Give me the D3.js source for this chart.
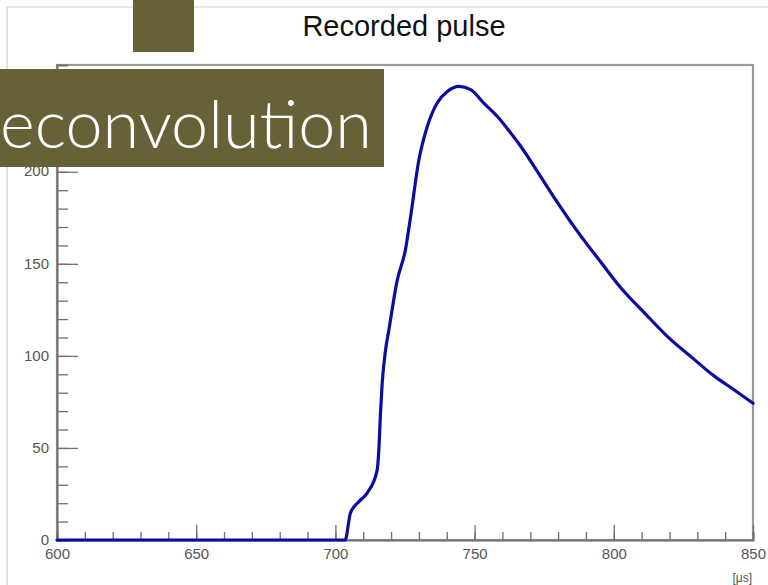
<!DOCTYPE html>
<html>
<head>
<meta charset="utf-8">
<script src="https://cdn.jsdelivr.net/npm/d3@7"></script>
<style>
  html, body { margin: 0; padding: 0; background: #fff; }
  svg { display: block; }
</style>
</head>
<body>
<svg id="chart" width="768" height="585"></svg>
<script>
// ---- data ----
const chartTitle = "Recorded pulse";
const bannerText = "econvolution";
const xUnit = "[μs]";
const xTicks = [600, 650, 700, 750, 800, 850];
const yTicks = [0, 50, 100, 150, 200, 250];
const timeUs = [600, 703.5, 705.4, 708.4, 711.4, 715.0, 715.6, 716.2, 716.8, 718.0, 719.2, 722.2, 725.2, 727.0,
  730.0, 733.0, 736.6, 740.2, 744.4, 748.6, 753.3, 758.2, 762.0, 766.5, 772.0, 778.6, 787.0, 795.3,
  802.5, 810.9, 819.3, 827.7, 836.1, 843.3, 850];
const amplitude = [0, 0, 14.7, 20.8, 25.5, 38, 49, 69, 85, 103, 114, 141, 158, 175.5,
  206.5, 224.6, 237.5, 243.6, 246.4, 244.6, 237.3, 230, 223, 214, 201.5, 186, 167.5, 151,
  137, 123.5, 110.5, 99.6, 89, 81.5, 74.3];
const xDomain = [600, 850];
const yDomain = [0, 258];

// ---- layout ----
const W = 768, H = 585;
const plot = { left: 57, right: 753, top: 65, bottom: 540 };
const svg = d3.select("#chart");

const x = d3.scaleLinear().domain(xDomain).range([plot.left, plot.right]);
const y = d3.scaleLinear().domain(yDomain).range([plot.bottom, plot.top]);

// outer page frame lines
svg.append("line").attr("x1", 7).attr("x2", W).attr("y1", 7).attr("y2", 7)
  .attr("stroke", "#cfcfcf").attr("stroke-width", 1.2);
svg.append("line").attr("x1", 7).attr("x2", 7).attr("y1", 7).attr("y2", H)
  .attr("stroke", "#cfcfcf").attr("stroke-width", 1.2);

// title
svg.append("text").attr("x", 404).attr("y", 36)
  .attr("text-anchor", "middle")
  .attr("font-family", "'Liberation Sans', Arial, sans-serif")
  .attr("font-size", 29).attr("fill", "#111").text(chartTitle);

// plot frame
svg.append("rect").attr("x", plot.left).attr("y", plot.top)
  .attr("width", plot.right - plot.left).attr("height", plot.bottom - plot.top)
  .attr("fill", "none").attr("stroke", "#9a9a9a").attr("stroke-width", 2.2);

const axisColor = "#707070";
const labelColor = "#555";
const fontFam = "'Liberation Sans', Arial, sans-serif";

// x axis (ticks pointing up, inside)
const xMinor = d3.range(600, 851, 10);
const xAxis = d3.axisBottom(x).tickValues(xMinor).tickSize(-8).tickFormat("");
const gx = svg.append("g").attr("transform", `translate(0,${plot.bottom})`).call(xAxis);
gx.selectAll("line").attr("stroke", axisColor).attr("stroke-width", 1.3);
gx.select(".domain").attr("stroke", axisColor).attr("stroke-width", 2);
const xMajor = d3.axisBottom(x).tickValues(xTicks).tickSize(-15).tickFormat(d3.format("d"));
const gx2 = svg.append("g").attr("transform", `translate(0,${plot.bottom})`).call(xMajor);
gx2.select(".domain").remove();
gx2.selectAll("line").attr("stroke", axisColor).attr("stroke-width", 1.3);
gx2.selectAll("text").attr("font-family", fontFam).attr("font-size", 15).attr("fill", labelColor)
  .attr("y", 8).attr("dy", "0.71em");

// y axis (ticks pointing right, inside)
const yMinor = d3.range(0, 259, 10);
const yAxis = d3.axisLeft(y).tickValues(yMinor).tickSize(-11).tickFormat("");
const gy = svg.append("g").attr("transform", `translate(${plot.left},0)`).call(yAxis);
gy.selectAll("line").attr("stroke", axisColor).attr("stroke-width", 1.3);
gy.select(".domain").attr("stroke", axisColor).attr("stroke-width", 2);
const yMajor = d3.axisLeft(y).tickValues(yTicks).tickSize(-21).tickFormat(d3.format("d"));
const gy2 = svg.append("g").attr("transform", `translate(${plot.left},0)`).call(yMajor);
gy2.select(".domain").remove();
gy2.selectAll("line").attr("stroke", axisColor).attr("stroke-width", 1.3);
gy2.selectAll("text").attr("font-family", fontFam).attr("font-size", 15).attr("fill", labelColor)
  .attr("x", -8).attr("dy", "0.28em");

// unit label
svg.append("text").attr("x", 752).attr("y", 582).attr("text-anchor", "end")
  .attr("font-family", fontFam).attr("font-size", 12).attr("fill", labelColor).text(xUnit);

// pulse curve
const pts = timeUs.map((t, i) => [t, amplitude[i]]);
const line = d3.line().x(d => x(d[0])).y(d => y(d[1])).curve(d3.curveMonotoneX);
svg.append("path").datum(pts).attr("d", line)
  .attr("fill", "none").attr("stroke", "#0c0ca0").attr("stroke-width", 3.2)
  .attr("stroke-linejoin", "round").attr("stroke-linecap", "round");

// overlay banners (slide decoration)
const olive = "#676137";
svg.append("rect").attr("x", 133).attr("y", 0).attr("width", 61).attr("height", 52).attr("fill", olive);
svg.append("rect").attr("x", 0).attr("y", 69).attr("width", 384).attr("height", 98).attr("fill", olive);
const bt = svg.append("text").attr("x", 0).attr("y", 148)
  .attr("font-family", "Lato, 'Open Sans', 'Liberation Sans', sans-serif")
  .attr("font-weight", 300).attr("font-size", 68).attr("fill", "#fff").text(bannerText);
const len = bt.node().getComputedTextLength();
bt.attr("font-size", 68 * 372 / len);
</script>
</body>
</html>
